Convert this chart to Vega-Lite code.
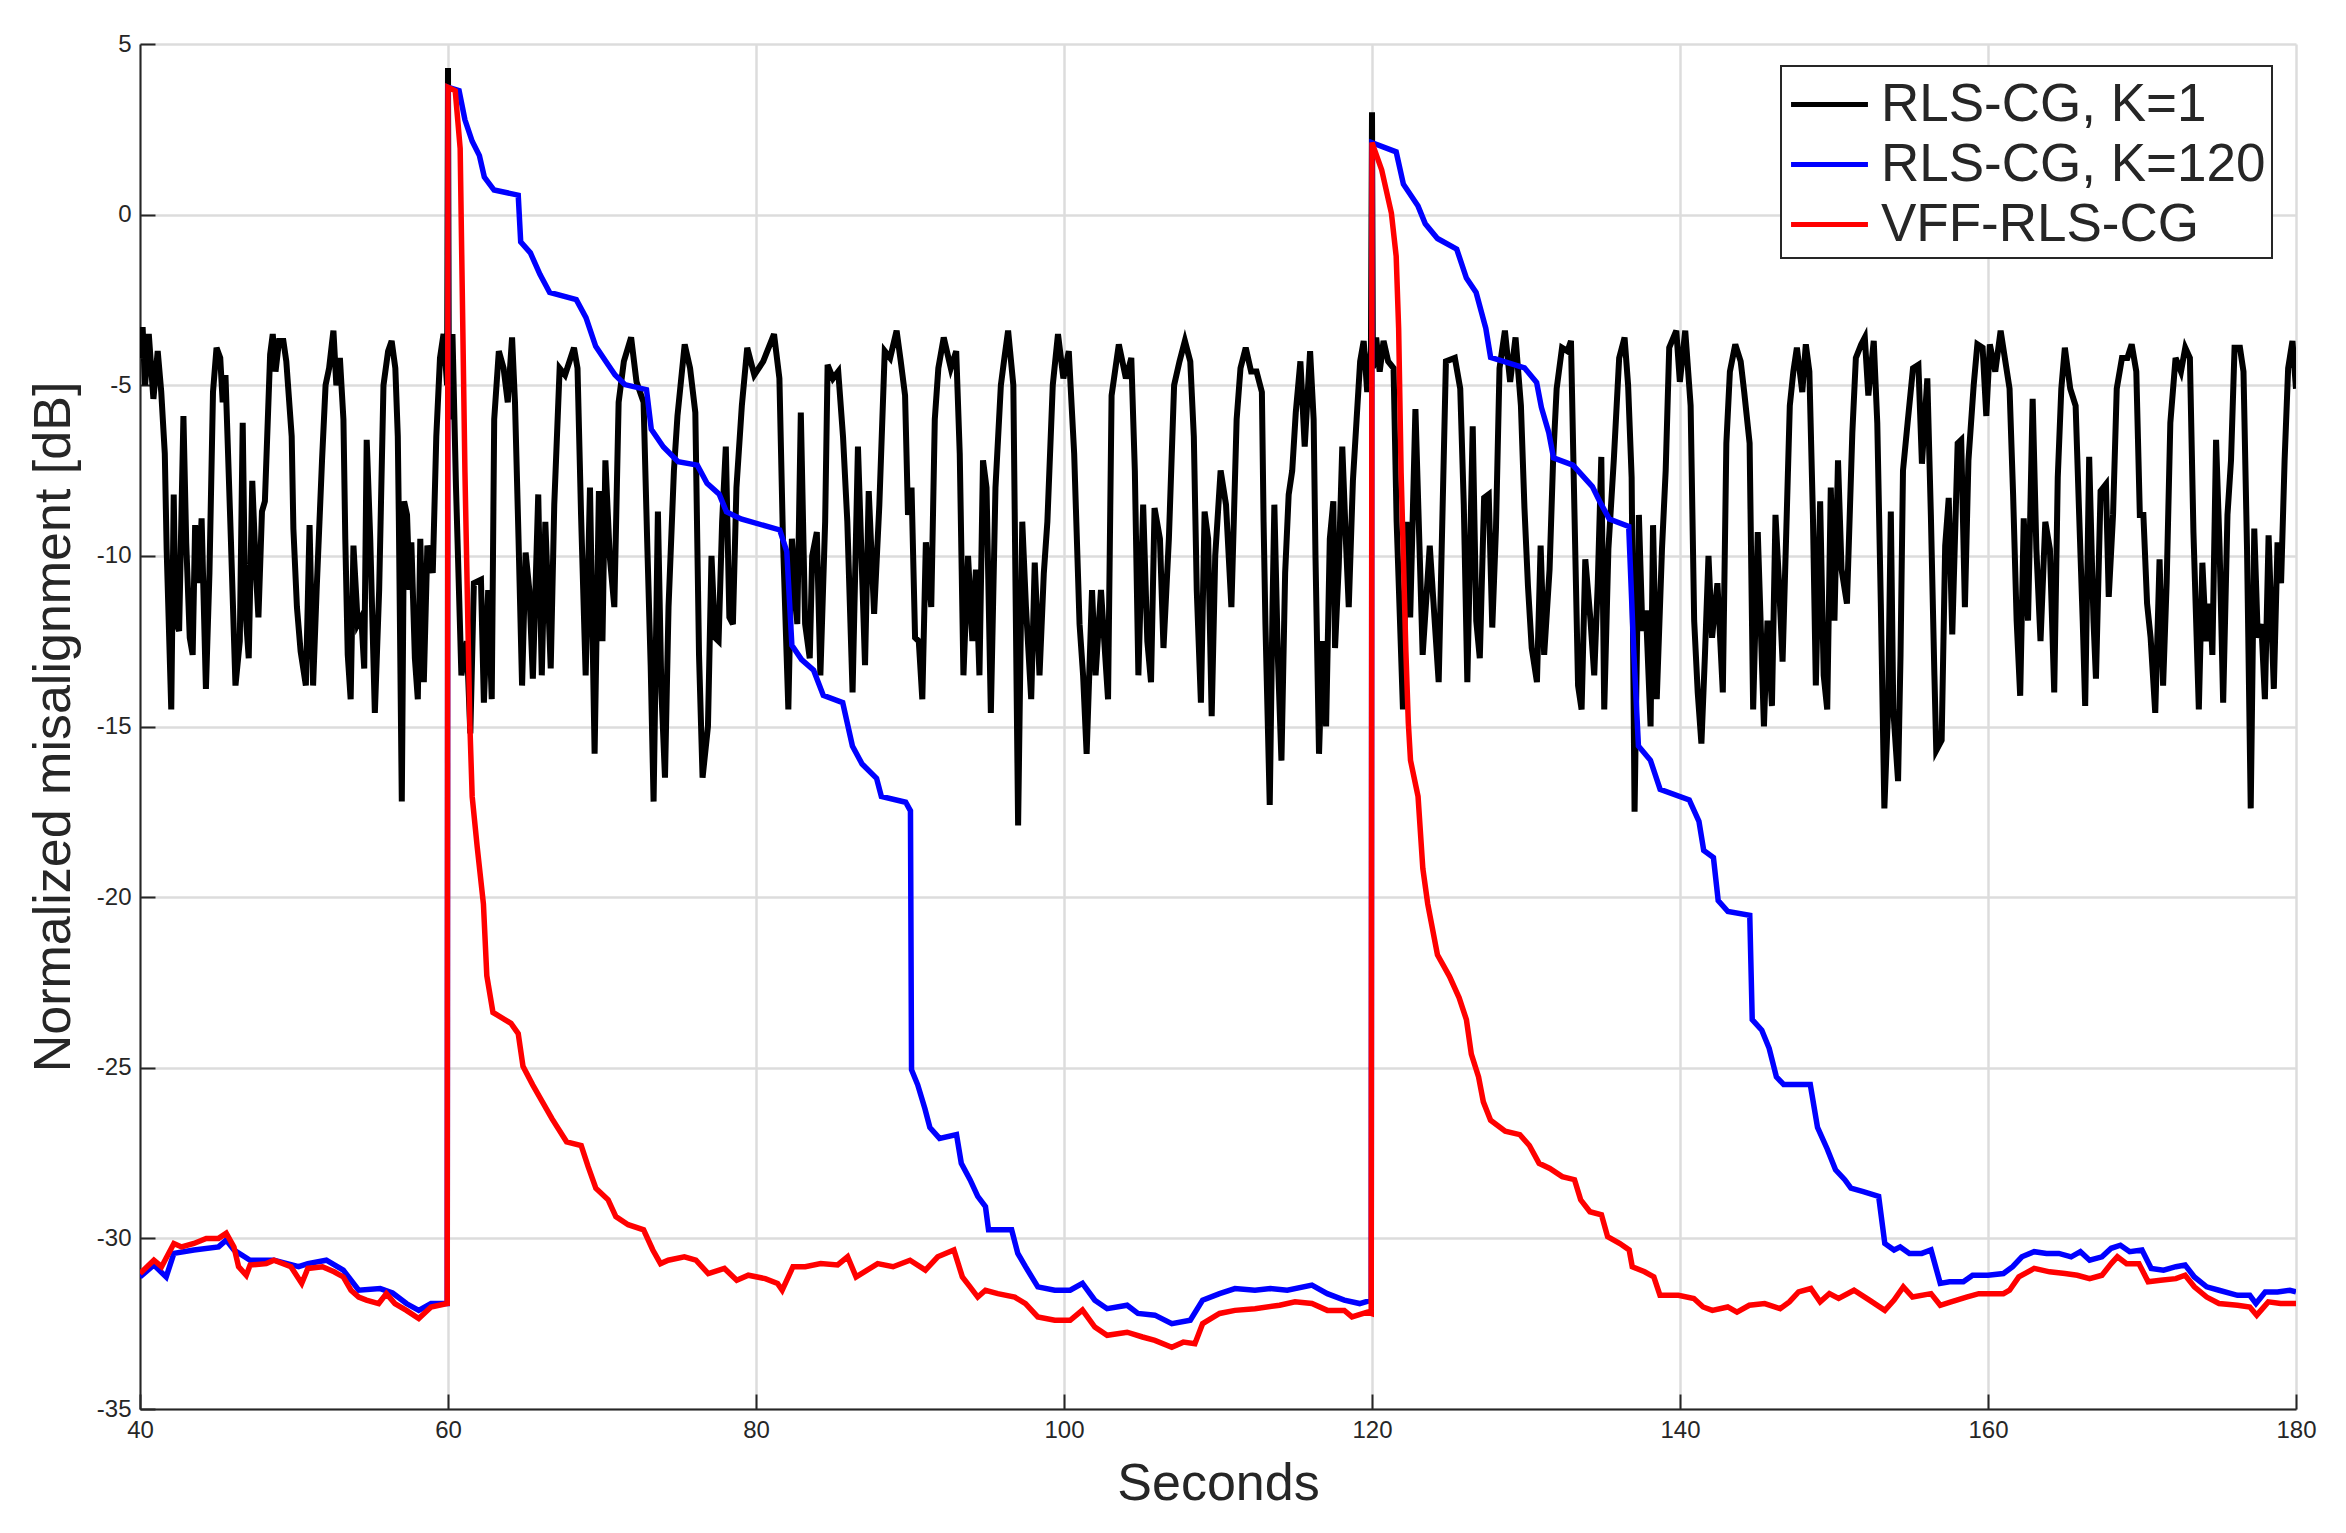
{
  "$schema": "https://vega.github.io/schema/vega-lite/v6.json",
  "autosize": {"type": "none"},
  "padding": {"left": 140, "top": 44, "right": 50, "bottom": 124},
  "width": 2156,
  "height": 1365,
  "background": "white",
  "config": {
    "font": "Liberation Sans",
    "view": {"stroke": null},
    "axis": {
      "domainColor": "#262626",
      "domainWidth": 2,
      "tickColor": "#262626",
      "tickWidth": 2,
      "tickSize": -15,
      "labelFont": "Liberation Sans",
      "labelFontSize": 24,
      "labelColor": "#262626",
      "labelFlush": false,
      "labelOverlap": false,
      "titleFont": "Liberation Sans",
      "titleFontSize": 52,
      "titleFontWeight": "normal",
      "titleColor": "#262626",
      "gridColor": "#dcdcdc",
      "gridWidth": 2.5,
      "gridOpacity": 1
    },
    "legend": {
      "orient": "none",
      "legendX": 1641,
      "legendY": 22,
      "labelFont": "Liberation Sans",
      "labelFontSize": 53,
      "labelColor": "#262626",
      "labelLimit": 0,
      "labelOffset": 19,
      "symbolType": "M-1.3,0H1.3",
      "symbolSize": 3500,
      "symbolOffset": 10,
      "symbolStrokeWidth": 5,
      "rowPadding": 0,
      "padding": 6,
      "strokeColor": "#262626",
      "strokeWidth": 2,
      "fillColor": "white"
    }
  },
  "datasets": {
    "k1": [
      {"t":40.0,"v":-4.2},{"t":40.17,"v":-3.3},{"t":40.33,"v":-5.0},{"t":40.57,"v":-3.5},{"t":40.87,"v":-5.4},{"t":41.15,"v":-4.0},{"t":41.38,"v":-5.2},{"t":41.61,"v":-7.0},{"t":41.73,"v":-9.8},{"t":42.03,"v":-14.5},
      {"t":42.19,"v":-8.2},{"t":42.31,"v":-11.9},{"t":42.54,"v":-12.2},{"t":42.82,"v":-5.9},{"t":43.0,"v":-9.6},{"t":43.23,"v":-12.4},{"t":43.42,"v":-12.9},{"t":43.58,"v":-9.1},{"t":43.81,"v":-10.8},{"t":44.0,"v":-8.9},
      {"t":44.28,"v":-13.9},{"t":44.51,"v":-10.5},{"t":44.74,"v":-5.2},{"t":44.97,"v":-3.9},{"t":45.21,"v":-4.2},{"t":45.37,"v":-5.5},{"t":45.55,"v":-4.7},{"t":45.9,"v":-9.5},{"t":46.2,"v":-13.8},{"t":46.48,"v":-12.5},
      {"t":46.67,"v":-6.1},{"t":46.83,"v":-11.5},{"t":47.06,"v":-13.0},{"t":47.29,"v":-7.8},{"t":47.53,"v":-10.5},{"t":47.69,"v":-11.8},{"t":47.92,"v":-8.7},{"t":48.11,"v":-8.4},{"t":48.45,"v":-4.1},{"t":48.62,"v":-3.5},
      {"t":48.8,"v":-4.6},{"t":49.03,"v":-3.7},{"t":49.31,"v":-3.7},{"t":49.5,"v":-4.3},{"t":49.85,"v":-6.5},{"t":49.96,"v":-9.2},{"t":50.19,"v":-11.5},{"t":50.43,"v":-12.8},{"t":50.77,"v":-13.8},{"t":51.01,"v":-9.1},
      {"t":51.24,"v":-13.8},{"t":51.47,"v":-11.0},{"t":51.82,"v":-7.2},{"t":52.05,"v":-5.0},{"t":52.28,"v":-4.5},{"t":52.56,"v":-3.4},{"t":52.75,"v":-5.0},{"t":52.98,"v":-4.2},{"t":53.21,"v":-6.0},{"t":53.33,"v":-9.5},
      {"t":53.49,"v":-12.9},{"t":53.68,"v":-14.2},{"t":53.86,"v":-9.7},{"t":54.14,"v":-12.0},{"t":54.37,"v":-11.8},{"t":54.56,"v":-13.3},{"t":54.72,"v":-6.6},{"t":54.95,"v":-9.5},{"t":55.25,"v":-14.6},{"t":55.53,"v":-11.0},
      {"t":55.81,"v":-5.0},{"t":56.11,"v":-4.0},{"t":56.34,"v":-3.7},{"t":56.58,"v":-4.5},{"t":56.74,"v":-6.5},{"t":56.81,"v":-9.0},{"t":57.0,"v":-17.2},{"t":57.15,"v":-8.4},{"t":57.34,"v":-8.8},{"t":57.5,"v":-11.0},
      {"t":57.62,"v":-9.6},{"t":57.85,"v":-13.0},{"t":58.04,"v":-14.2},{"t":58.2,"v":-9.5},{"t":58.43,"v":-13.7},{"t":58.66,"v":-9.7},{"t":59.01,"v":-10.5},{"t":59.24,"v":-6.5},{"t":59.48,"v":-4.2},{"t":59.71,"v":-3.5},
      {"t":59.94,"v":-5.0},{"t":60.0,"v":4.3},{"t":60.06,"v":-6.0},{"t":60.29,"v":-3.5},{"t":60.52,"v":-8.0},{"t":60.87,"v":-13.5},{"t":61.22,"v":-12.5},{"t":61.45,"v":-15.2},{"t":61.68,"v":-10.8},{"t":62.14,"v":-10.7},
      {"t":62.33,"v":-14.3},{"t":62.61,"v":-11.0},{"t":62.84,"v":-14.2},{"t":63.0,"v":-6.0},{"t":63.3,"v":-4.0},{"t":63.61,"v":-4.5},{"t":63.88,"v":-5.5},{"t":64.16,"v":-3.6},{"t":64.35,"v":-5.5},{"t":64.58,"v":-9.5},
      {"t":64.81,"v":-13.8},{"t":65.04,"v":-9.9},{"t":65.28,"v":-11.0},{"t":65.51,"v":-13.6},{"t":65.86,"v":-8.2},{"t":66.09,"v":-13.5},{"t":66.32,"v":-9.0},{"t":66.67,"v":-13.3},{"t":66.9,"v":-8.5},{"t":67.25,"v":-4.5},
      {"t":67.6,"v":-4.7},{"t":68.18,"v":-3.9},{"t":68.41,"v":-4.5},{"t":68.64,"v":-8.8},{"t":68.94,"v":-13.5},{"t":69.22,"v":-8.0},{"t":69.52,"v":-15.8},{"t":69.8,"v":-8.1},{"t":70.03,"v":-12.5},{"t":70.22,"v":-7.2},
      {"t":70.5,"v":-10.0},{"t":70.8,"v":-11.5},{"t":71.08,"v":-5.5},{"t":71.42,"v":-4.3},{"t":71.89,"v":-3.6},{"t":72.24,"v":-4.9},{"t":72.7,"v":-5.5},{"t":72.93,"v":-9.5},{"t":73.16,"v":-13.2},{"t":73.35,"v":-17.2},
      {"t":73.63,"v":-8.7},{"t":73.86,"v":-14.0},{"t":74.09,"v":-16.5},{"t":74.32,"v":-11.5},{"t":74.67,"v":-7.5},{"t":74.9,"v":-5.9},{"t":75.37,"v":-3.8},{"t":75.72,"v":-4.5},{"t":76.06,"v":-5.8},{"t":76.3,"v":-12.9},
      {"t":76.53,"v":-16.5},{"t":76.88,"v":-15.0},{"t":77.11,"v":-10.0},{"t":77.34,"v":-12.4},{"t":77.57,"v":-12.5},{"t":77.8,"v":-9.0},{"t":78.04,"v":-6.8},{"t":78.27,"v":-11.8},{"t":78.5,"v":-12.0},{"t":78.73,"v":-8.0},
      {"t":79.08,"v":-5.6},{"t":79.43,"v":-3.9},{"t":79.89,"v":-4.7},{"t":80.47,"v":-4.3},{"t":81.17,"v":-3.5},{"t":81.52,"v":-4.8},{"t":81.75,"v":-9.5},{"t":82.1,"v":-14.5},{"t":82.33,"v":-9.5},{"t":82.68,"v":-12.0},
      {"t":82.91,"v":-5.8},{"t":83.19,"v":-12.0},{"t":83.49,"v":-13.0},{"t":83.65,"v":-10.0},{"t":83.95,"v":-9.3},{"t":84.18,"v":-13.5},{"t":84.49,"v":-9.0},{"t":84.65,"v":-4.4},{"t":85.0,"v":-4.8},{"t":85.34,"v":-4.6},
      {"t":85.65,"v":-6.5},{"t":85.93,"v":-9.0},{"t":86.27,"v":-14.0},{"t":86.62,"v":-6.8},{"t":86.85,"v":-10.0},{"t":87.08,"v":-13.2},{"t":87.32,"v":-8.1},{"t":87.67,"v":-11.7},{"t":88.01,"v":-8.5},{"t":88.36,"v":-4.0},
      {"t":88.71,"v":-4.2},{"t":89.13,"v":-3.4},{"t":89.4,"v":-4.3},{"t":89.68,"v":-5.3},{"t":89.87,"v":-8.8},{"t":90.1,"v":-8.0},{"t":90.33,"v":-12.4},{"t":90.57,"v":-12.5},{"t":90.8,"v":-14.2},{"t":91.03,"v":-9.6},
      {"t":91.38,"v":-11.5},{"t":91.61,"v":-6.0},{"t":91.84,"v":-4.5},{"t":92.19,"v":-3.6},{"t":92.65,"v":-4.5},{"t":93.0,"v":-4.0},{"t":93.23,"v":-7.0},{"t":93.47,"v":-13.5},{"t":93.77,"v":-10.0},{"t":94.05,"v":-12.5},
      {"t":94.28,"v":-10.4},{"t":94.51,"v":-13.5},{"t":94.74,"v":-7.2},{"t":94.97,"v":-8.0},{"t":95.25,"v":-14.6},{"t":95.55,"v":-8.0},{"t":95.9,"v":-5.0},{"t":96.13,"v":-4.2},{"t":96.37,"v":-3.4},{"t":96.71,"v":-5.0},
      {"t":96.83,"v":-10.0},{"t":97.02,"v":-17.9},{"t":97.29,"v":-9.0},{"t":97.53,"v":-11.5},{"t":97.87,"v":-14.2},{"t":98.1,"v":-10.2},{"t":98.41,"v":-13.5},{"t":98.69,"v":-10.5},{"t":98.92,"v":-9.0},{"t":99.27,"v":-5.0},
      {"t":99.61,"v":-3.5},{"t":99.96,"v":-4.8},{"t":100.31,"v":-4.0},{"t":100.66,"v":-7.0},{"t":101.01,"v":-12.0},{"t":101.24,"v":-13.5},{"t":101.47,"v":-15.8},{"t":101.82,"v":-11.0},{"t":102.05,"v":-13.5},{"t":102.4,"v":-11.0},
      {"t":102.86,"v":-14.2},{"t":103.09,"v":-5.3},{"t":103.56,"v":-3.8},{"t":104.02,"v":-4.8},{"t":104.37,"v":-4.2},{"t":104.6,"v":-7.5},{"t":104.83,"v":-13.5},{"t":105.14,"v":-8.5},{"t":105.41,"v":-12.5},{"t":105.65,"v":-13.7},
      {"t":105.88,"v":-8.6},{"t":106.23,"v":-9.5},{"t":106.46,"v":-12.7},{"t":106.81,"v":-9.5},{"t":107.15,"v":-5.0},{"t":107.5,"v":-4.3},{"t":107.85,"v":-3.7},{"t":108.2,"v":-4.3},{"t":108.43,"v":-6.5},{"t":108.62,"v":-11.0},
      {"t":108.89,"v":-14.3},{"t":109.13,"v":-8.7},{"t":109.36,"v":-9.5},{"t":109.59,"v":-14.7},{"t":109.82,"v":-10.0},{"t":110.17,"v":-7.5},{"t":110.52,"v":-8.5},{"t":110.87,"v":-11.5},{"t":111.21,"v":-6.0},{"t":111.46,"v":-4.5},
      {"t":111.8,"v":-3.9},{"t":112.15,"v":-4.6},{"t":112.5,"v":-4.6},{"t":112.85,"v":-5.2},{"t":112.96,"v":-9.0},{"t":113.08,"v":-12.0},{"t":113.36,"v":-17.3},{"t":113.54,"v":-11.5},{"t":113.66,"v":-8.5},{"t":113.89,"v":-13.0},
      {"t":114.12,"v":-16.0},{"t":114.36,"v":-10.5},{"t":114.59,"v":-8.2},{"t":114.82,"v":-7.5},{"t":115.05,"v":-5.8},{"t":115.35,"v":-4.3},{"t":115.63,"v":-6.8},{"t":115.98,"v":-4.0},{"t":116.21,"v":-6.0},{"t":116.33,"v":-10.0},
      {"t":116.56,"v":-15.8},{"t":116.79,"v":-12.5},{"t":117.02,"v":-15.0},{"t":117.26,"v":-9.5},{"t":117.49,"v":-8.4},{"t":117.6,"v":-12.7},{"t":117.84,"v":-10.3},{"t":118.07,"v":-6.8},{"t":118.3,"v":-9.5},{"t":118.49,"v":-11.5},
      {"t":118.76,"v":-7.8},{"t":119.0,"v":-6.0},{"t":119.23,"v":-4.3},{"t":119.46,"v":-3.7},{"t":119.69,"v":-5.2},{"t":119.93,"v":-4.0},{"t":120.0,"v":3.0},{"t":120.06,"v":-4.5},{"t":120.27,"v":-3.6},{"t":120.5,"v":-4.6},
      {"t":120.75,"v":-3.7},{"t":121.05,"v":-4.3},{"t":121.4,"v":-4.5},{"t":121.6,"v":-9.0},{"t":122.01,"v":-14.5},{"t":122.24,"v":-9.0},{"t":122.48,"v":-11.8},{"t":122.82,"v":-5.7},{"t":123.29,"v":-12.9},{"t":123.75,"v":-9.7},
      {"t":124.33,"v":-13.7},{"t":124.8,"v":-4.3},{"t":125.38,"v":-4.2},{"t":125.73,"v":-5.1},{"t":125.96,"v":-8.5},{"t":126.19,"v":-13.7},{"t":126.54,"v":-6.2},{"t":126.77,"v":-11.9},{"t":127.0,"v":-13.0},{"t":127.28,"v":-8.3},
      {"t":127.58,"v":-8.2},{"t":127.81,"v":-12.1},{"t":128.05,"v":-9.2},{"t":128.28,"v":-4.5},{"t":128.63,"v":-3.4},{"t":128.97,"v":-4.9},{"t":129.32,"v":-3.6},{"t":129.67,"v":-5.6},{"t":129.9,"v":-8.6},{"t":130.13,"v":-10.9},
      {"t":130.37,"v":-12.7},{"t":130.71,"v":-13.7},{"t":130.95,"v":-9.7},{"t":131.18,"v":-12.9},{"t":131.53,"v":-10.4},{"t":131.76,"v":-7.2},{"t":131.99,"v":-5.1},{"t":132.34,"v":-3.9},{"t":132.69,"v":-4.0},{"t":132.92,"v":-3.7},
      {"t":133.15,"v":-8.8},{"t":133.38,"v":-13.8},{"t":133.61,"v":-14.5},{"t":133.85,"v":-10.1},{"t":134.19,"v":-11.9},{"t":134.43,"v":-13.5},{"t":134.66,"v":-10.8},{"t":134.89,"v":-7.1},{"t":135.08,"v":-14.5},{"t":135.35,"v":-9.8},
      {"t":135.7,"v":-7.2},{"t":136.05,"v":-4.2},{"t":136.4,"v":-3.6},{"t":136.63,"v":-5.0},{"t":136.86,"v":-7.7},{"t":137.05,"v":-17.5},{"t":137.33,"v":-8.8},{"t":137.56,"v":-12.2},{"t":137.79,"v":-11.6},{"t":138.09,"v":-15.0},
      {"t":138.25,"v":-9.1},{"t":138.49,"v":-14.2},{"t":138.83,"v":-9.8},{"t":139.07,"v":-7.5},{"t":139.3,"v":-3.9},{"t":139.76,"v":-3.4},{"t":139.99,"v":-4.9},{"t":140.34,"v":-3.4},{"t":140.69,"v":-5.6},{"t":140.92,"v":-11.9},
      {"t":141.15,"v":-14.0},{"t":141.39,"v":-15.5},{"t":141.62,"v":-12.9},{"t":141.85,"v":-10.0},{"t":142.08,"v":-12.4},{"t":142.43,"v":-10.8},{"t":142.78,"v":-14.0},{"t":143.01,"v":-6.7},{"t":143.24,"v":-4.6},{"t":143.59,"v":-3.8},
      {"t":143.94,"v":-4.3},{"t":144.17,"v":-5.2},{"t":144.52,"v":-6.7},{"t":144.75,"v":-14.5},{"t":145.05,"v":-9.3},{"t":145.45,"v":-15.0},{"t":145.68,"v":-11.9},{"t":145.97,"v":-14.4},{"t":146.2,"v":-8.8},{"t":146.43,"v":-10.8},
      {"t":146.66,"v":-13.1},{"t":146.9,"v":-9.3},{"t":147.13,"v":-5.6},{"t":147.36,"v":-4.6},{"t":147.59,"v":-3.9},{"t":147.94,"v":-5.2},{"t":148.17,"v":-3.8},{"t":148.4,"v":-4.6},{"t":148.63,"v":-8.8},{"t":148.82,"v":-13.8},
      {"t":149.1,"v":-8.4},{"t":149.33,"v":-13.5},{"t":149.56,"v":-14.5},{"t":149.79,"v":-8.0},{"t":150.03,"v":-11.9},{"t":150.26,"v":-7.2},{"t":150.49,"v":-10.4},{"t":150.84,"v":-11.4},{"t":151.19,"v":-6.4},{"t":151.42,"v":-4.2},
      {"t":151.77,"v":-3.8},{"t":152.0,"v":-3.6},{"t":152.23,"v":-5.3},{"t":152.58,"v":-3.7},{"t":152.81,"v":-6.1},{"t":153.04,"v":-11.4},{"t":153.27,"v":-17.4},{"t":153.51,"v":-14.5},{"t":153.69,"v":-8.7},{"t":153.85,"v":-14.5},
      {"t":154.16,"v":-16.6},{"t":154.32,"v":-12.9},{"t":154.48,"v":-7.5},{"t":154.78,"v":-6.1},{"t":155.13,"v":-4.5},{"t":155.48,"v":-4.4},{"t":155.71,"v":-7.3},{"t":156.06,"v":-4.8},{"t":156.29,"v":-8.8},{"t":156.52,"v":-13.5},
      {"t":156.64,"v":-15.7},{"t":156.99,"v":-15.4},{"t":157.22,"v":-9.7},{"t":157.45,"v":-8.3},{"t":157.68,"v":-12.3},{"t":158.03,"v":-6.7},{"t":158.26,"v":-6.6},{"t":158.5,"v":-11.5},{"t":158.73,"v":-7.2},{"t":159.07,"v":-5.0},
      {"t":159.31,"v":-3.8},{"t":159.65,"v":-3.9},{"t":159.89,"v":-5.9},{"t":160.12,"v":-3.8},{"t":160.47,"v":-4.6},{"t":160.82,"v":-3.4},{"t":161.16,"v":-4.4},{"t":161.4,"v":-5.1},{"t":161.63,"v":-8.2},{"t":161.86,"v":-11.9},
      {"t":162.09,"v":-14.1},{"t":162.32,"v":-8.9},{"t":162.6,"v":-11.9},{"t":162.9,"v":-5.4},{"t":163.14,"v":-9.8},{"t":163.41,"v":-12.5},{"t":163.72,"v":-9.0},{"t":164.02,"v":-9.8},{"t":164.3,"v":-14.0},{"t":164.53,"v":-7.7},
      {"t":164.76,"v":-5.1},{"t":164.99,"v":-3.9},{"t":165.34,"v":-5.1},{"t":165.69,"v":-5.6},{"t":165.92,"v":-8.8},{"t":166.15,"v":-11.9},{"t":166.31,"v":-14.4},{"t":166.57,"v":-7.1},{"t":166.85,"v":-11.9},{"t":167.01,"v":-13.6},
      {"t":167.31,"v":-8.1},{"t":167.66,"v":-7.9},{"t":167.84,"v":-11.2},{"t":168.12,"v":-8.8},{"t":168.36,"v":-5.1},{"t":168.7,"v":-4.2},{"t":169.05,"v":-4.2},{"t":169.33,"v":-3.8},{"t":169.63,"v":-4.6},{"t":169.86,"v":-8.8},
      {"t":170.09,"v":-8.8},{"t":170.33,"v":-11.4},{"t":170.56,"v":-12.4},{"t":170.86,"v":-14.6},{"t":171.14,"v":-10.1},{"t":171.37,"v":-13.8},{"t":171.6,"v":-10.8},{"t":171.84,"v":-6.1},{"t":172.18,"v":-4.2},{"t":172.53,"v":-4.6},
      {"t":172.81,"v":-3.9},{"t":173.11,"v":-4.2},{"t":173.34,"v":-9.3},{"t":173.69,"v":-14.5},{"t":173.92,"v":-10.2},{"t":174.16,"v":-12.5},{"t":174.43,"v":-11.4},{"t":174.57,"v":-12.9},{"t":174.81,"v":-6.6},{"t":175.04,"v":-9.8},
      {"t":175.27,"v":-14.3},{"t":175.55,"v":-8.8},{"t":175.78,"v":-7.2},{"t":176.01,"v":-3.9},{"t":176.36,"v":-3.9},{"t":176.59,"v":-4.6},{"t":176.82,"v":-9.8},{"t":177.06,"v":-17.4},{"t":177.29,"v":-9.2},{"t":177.52,"v":-12.4},
      {"t":177.75,"v":-12.0},{"t":177.98,"v":-14.2},{"t":178.22,"v":-9.4},{"t":178.56,"v":-13.9},{"t":178.8,"v":-9.6},{"t":179.03,"v":-10.8},{"t":179.26,"v":-7.2},{"t":179.49,"v":-4.5},{"t":179.77,"v":-3.7},{"t":180.0,"v":-5.1}
    ],
    "k120": [
      {"t":40.0,"v":-31.13},{"t":40.9,"v":-30.78},{"t":41.7,"v":-31.13},{"t":42.2,"v":-30.44},{"t":43.5,"v":-30.34},{"t":45.1,"v":-30.25},{"t":45.6,"v":-30.05},{"t":46.1,"v":-30.34},{"t":47.15,"v":-30.64},{"t":48.7,"v":-30.64},
      {"t":50.3,"v":-30.83},{"t":50.9,"v":-30.74},{"t":52.1,"v":-30.64},{"t":53.2,"v":-30.93},{"t":54.2,"v":-31.52},{"t":55.6,"v":-31.47},{"t":56.4,"v":-31.6},{"t":57.3,"v":-31.91},{"t":58.1,"v":-32.11},{"t":58.9,"v":-31.91},
      {"t":59.95,"v":-31.91},{"t":60.0,"v":3.73},{"t":60.72,"v":3.63},{"t":61.1,"v":2.78},{"t":61.57,"v":2.15},{"t":62.04,"v":1.73},{"t":62.36,"v":1.1},{"t":62.99,"v":0.72},{"t":64.56,"v":0.57},{"t":64.72,"v":-0.8},
      {"t":65.35,"v":-1.12},{"t":65.97,"v":-1.75},{"t":66.6,"v":-2.28},{"t":68.33,"v":-2.49},{"t":68.96,"v":-3.02},{"t":69.59,"v":-3.86},{"t":70.22,"v":-4.28},{"t":70.85,"v":-4.7},{"t":71.48,"v":-4.98},{"t":72.89,"v":-5.13},
      {"t":73.2,"v":-6.29},{"t":73.99,"v":-6.81},{"t":74.94,"v":-7.24},{"t":76.19,"v":-7.34},{"t":76.82,"v":-7.87},{"t":77.61,"v":-8.19},{"t":78.08,"v":-8.71},{"t":79.03,"v":-8.92},{"t":81.54,"v":-9.24},{"t":82.0,"v":-9.87},
      {"t":82.33,"v":-12.62},{"t":82.96,"v":-13.04},{"t":83.74,"v":-13.35},{"t":84.37,"v":-14.09},{"t":85.63,"v":-14.3},{"t":86.26,"v":-15.57},{"t":86.89,"v":-16.1},{"t":87.83,"v":-16.52},{"t":88.14,"v":-17.05},{"t":89.72,"v":-17.22},
      {"t":90.03,"v":-17.47},{"t":90.1,"v":-25.06},{"t":90.5,"v":-25.5},{"t":90.97,"v":-26.2},{"t":91.29,"v":-26.75},{"t":91.92,"v":-27.07},{"t":93.02,"v":-26.96},{"t":93.33,"v":-27.8},{"t":93.9,"v":-28.28},{"t":94.4,"v":-28.77},
      {"t":94.9,"v":-29.07},{"t":95.1,"v":-29.75},{"t":96.6,"v":-29.75},{"t":97.0,"v":-30.44},{"t":97.5,"v":-30.83},{"t":98.3,"v":-31.42},{"t":99.4,"v":-31.52},{"t":100.4,"v":-31.52},{"t":101.2,"v":-31.32},{"t":102.0,"v":-31.81},
      {"t":102.8,"v":-32.06},{"t":104.1,"v":-31.96},{"t":104.8,"v":-32.2},{"t":105.9,"v":-32.25},{"t":107.0,"v":-32.5},{"t":108.2,"v":-32.4},{"t":109.0,"v":-31.81},{"t":110.1,"v":-31.62},{"t":111.1,"v":-31.47},{"t":112.4,"v":-31.52},
      {"t":113.4,"v":-31.47},{"t":114.5,"v":-31.52},{"t":116.1,"v":-31.37},{"t":117.1,"v":-31.62},{"t":118.2,"v":-31.81},{"t":119.2,"v":-31.91},{"t":119.95,"v":-31.81},{"t":120.0,"v":2.11},{"t":121.57,"v":1.84},{"t":122.04,"v":0.89},
      {"t":122.99,"v":0.25},{"t":123.46,"v":-0.27},{"t":124.25,"v":-0.7},{"t":125.5,"v":-1.01},{"t":126.13,"v":-1.86},{"t":126.76,"v":-2.28},{"t":127.39,"v":-3.33},{"t":127.7,"v":-4.18},{"t":129.9,"v":-4.49},{"t":130.69,"v":-4.92},
      {"t":131.0,"v":-5.65},{"t":131.48,"v":-6.39},{"t":131.79,"v":-7.13},{"t":133.05,"v":-7.34},{"t":134.31,"v":-7.97},{"t":134.78,"v":-8.4},{"t":135.41,"v":-8.92},{"t":136.67,"v":-9.14},{"t":136.98,"v":-12.62},{"t":137.3,"v":-15.57},
      {"t":138.08,"v":-15.99},{"t":138.71,"v":-16.84},{"t":140.6,"v":-17.15},{"t":141.23,"v":-17.78},{"t":141.54,"v":-18.63},{"t":142.17,"v":-18.84},{"t":142.48,"v":-20.1},{"t":143.11,"v":-20.42},{"t":144.53,"v":-20.53},{"t":144.69,"v":-23.59},
      {"t":145.31,"v":-23.9},{"t":145.79,"v":-24.43},{"t":146.26,"v":-25.27},{"t":146.73,"v":-25.49},{"t":148.46,"v":-25.49},{"t":148.93,"v":-26.75},{"t":149.56,"v":-27.38},{"t":150.1,"v":-27.99},{"t":150.7,"v":-28.28},{"t":151.1,"v":-28.53},
      {"t":151.9,"v":-28.63},{"t":152.9,"v":-28.77},{"t":153.3,"v":-30.15},{"t":153.9,"v":-30.34},{"t":154.3,"v":-30.25},{"t":154.9,"v":-30.44},{"t":155.7,"v":-30.44},{"t":156.3,"v":-30.34},{"t":156.9,"v":-31.32},{"t":157.5,"v":-31.27},
      {"t":158.4,"v":-31.27},{"t":159.0,"v":-31.08},{"t":160.0,"v":-31.08},{"t":161.0,"v":-31.03},{"t":161.6,"v":-30.83},{"t":162.2,"v":-30.54},{"t":163.0,"v":-30.39},{"t":163.8,"v":-30.44},{"t":164.6,"v":-30.44},{"t":165.4,"v":-30.54},
      {"t":166.0,"v":-30.39},{"t":166.6,"v":-30.64},{"t":167.4,"v":-30.54},{"t":168.0,"v":-30.29},{"t":168.6,"v":-30.2},{"t":169.2,"v":-30.39},{"t":170.0,"v":-30.34},{"t":170.6,"v":-30.88},{"t":171.4,"v":-30.93},{"t":172.2,"v":-30.83},
      {"t":172.8,"v":-30.78},{"t":173.4,"v":-31.13},{"t":174.2,"v":-31.42},{"t":175.0,"v":-31.52},{"t":176.2,"v":-31.67},{"t":177.0,"v":-31.67},{"t":177.4,"v":-31.91},{"t":178.0,"v":-31.57},{"t":178.8,"v":-31.57},{"t":179.6,"v":-31.52},
      {"t":180.0,"v":-31.57}
    ],
    "vff": [
      {"t":40.0,"v":-31.03},{"t":40.9,"v":-30.64},{"t":41.4,"v":-30.83},{"t":42.2,"v":-30.15},{"t":42.7,"v":-30.25},{"t":43.5,"v":-30.15},{"t":44.3,"v":-30.0},{"t":45.1,"v":-30.0},{"t":45.6,"v":-29.85},{"t":46.1,"v":-30.25},
      {"t":46.4,"v":-30.83},{"t":46.9,"v":-31.08},{"t":47.15,"v":-30.78},{"t":48.2,"v":-30.74},{"t":48.7,"v":-30.64},{"t":49.8,"v":-30.83},{"t":50.5,"v":-31.32},{"t":50.9,"v":-30.88},{"t":51.85,"v":-30.83},{"t":52.6,"v":-30.98},
      {"t":53.2,"v":-31.13},{"t":53.7,"v":-31.52},{"t":54.2,"v":-31.72},{"t":54.7,"v":-31.81},{"t":55.5,"v":-31.91},{"t":56.0,"v":-31.62},{"t":56.55,"v":-31.91},{"t":57.3,"v":-32.11},{"t":58.1,"v":-32.35},{"t":58.9,"v":-32.01},
      {"t":59.95,"v":-31.91},{"t":60.0,"v":3.73},{"t":60.47,"v":3.63},{"t":60.79,"v":1.94},{"t":61.1,"v":-7.55},{"t":61.42,"v":-14.94},{"t":61.57,"v":-17.05},{"t":61.89,"v":-18.5},{"t":62.3,"v":-20.2},{"t":62.52,"v":-22.3},
      {"t":62.92,"v":-23.38},{"t":64.09,"v":-23.7},{"t":64.56,"v":-24.0},{"t":64.87,"v":-24.96},{"t":65.5,"v":-25.5},{"t":66.13,"v":-26.0},{"t":66.76,"v":-26.5},{"t":67.7,"v":-27.17},{"t":68.65,"v":-27.28},{"t":69.1,"v":-27.9},
      {"t":69.6,"v":-28.53},{"t":70.4,"v":-28.87},{"t":70.9,"v":-29.36},{"t":71.7,"v":-29.6},{"t":72.7,"v":-29.75},{"t":73.3,"v":-30.34},{"t":73.8,"v":-30.74},{"t":74.3,"v":-30.64},{"t":75.35,"v":-30.54},{"t":76.1,"v":-30.64},
      {"t":76.9,"v":-31.03},{"t":77.95,"v":-30.88},{"t":78.75,"v":-31.23},{"t":79.5,"v":-31.08},{"t":80.6,"v":-31.18},{"t":81.4,"v":-31.32},{"t":81.7,"v":-31.52},{"t":82.4,"v":-30.83},{"t":83.2,"v":-30.83},{"t":84.2,"v":-30.74},
      {"t":85.3,"v":-30.78},{"t":85.95,"v":-30.54},{"t":86.5,"v":-31.13},{"t":87.9,"v":-30.74},{"t":88.9,"v":-30.83},{"t":90.0,"v":-30.64},{"t":91.0,"v":-30.93},{"t":91.8,"v":-30.54},{"t":92.85,"v":-30.34},{"t":93.4,"v":-31.13},
      {"t":93.9,"v":-31.42},{"t":94.4,"v":-31.72},{"t":94.9,"v":-31.52},{"t":95.7,"v":-31.62},{"t":96.8,"v":-31.72},{"t":97.5,"v":-31.91},{"t":98.3,"v":-32.3},{"t":99.4,"v":-32.4},{"t":100.4,"v":-32.4},{"t":101.2,"v":-32.1},
      {"t":102.0,"v":-32.6},{"t":102.8,"v":-32.84},{"t":104.1,"v":-32.75},{"t":105.1,"v":-32.89},{"t":105.9,"v":-32.99},{"t":107.0,"v":-33.19},{"t":107.75,"v":-33.04},{"t":108.5,"v":-33.09},{"t":109.0,"v":-32.5},{"t":110.1,"v":-32.2},
      {"t":111.1,"v":-32.11},{"t":112.4,"v":-32.06},{"t":114.0,"v":-31.96},{"t":115.0,"v":-31.86},{"t":116.1,"v":-31.91},{"t":117.1,"v":-32.11},{"t":118.2,"v":-32.11},{"t":118.7,"v":-32.3},{"t":119.7,"v":-32.16},{"t":119.95,"v":-32.2},
      {"t":120.0,"v":2.11},{"t":120.63,"v":1.31},{"t":121.26,"v":0.04},{"t":121.57,"v":-1.22},{"t":121.73,"v":-3.33},{"t":121.89,"v":-7.55},{"t":122.2,"v":-12.8},{"t":122.36,"v":-14.9},{"t":122.5,"v":-15.99},{"t":122.99,"v":-17.05},
      {"t":123.3,"v":-19.16},{"t":123.62,"v":-20.2},{"t":124.25,"v":-21.69},{"t":125.03,"v":-22.32},{"t":125.66,"v":-22.95},{"t":126.13,"v":-23.59},{"t":126.45,"v":-24.6},{"t":126.92,"v":-25.27},{"t":127.23,"v":-26.0},{"t":127.7,"v":-26.54},
      {"t":128.65,"v":-26.86},{"t":129.6,"v":-26.96},{"t":130.22,"v":-27.28},{"t":130.85,"v":-27.8},{"t":131.55,"v":-27.95},{"t":132.35,"v":-28.19},{"t":133.15,"v":-28.28},{"t":133.55,"v":-28.87},{"t":134.15,"v":-29.22},{"t":134.9,"v":-29.31},
      {"t":135.3,"v":-29.95},{"t":136.1,"v":-30.15},{"t":136.7,"v":-30.34},{"t":136.9,"v":-30.83},{"t":137.7,"v":-30.98},{"t":138.3,"v":-31.13},{"t":138.7,"v":-31.67},{"t":139.9,"v":-31.67},{"t":140.9,"v":-31.76},{"t":141.5,"v":-32.01},
      {"t":142.1,"v":-32.11},{"t":143.1,"v":-32.01},{"t":143.7,"v":-32.16},{"t":144.5,"v":-31.96},{"t":145.5,"v":-31.91},{"t":146.5,"v":-32.06},{"t":147.1,"v":-31.86},{"t":147.7,"v":-31.57},{"t":148.5,"v":-31.47},{"t":149.1,"v":-31.86},
      {"t":149.7,"v":-31.62},{"t":150.3,"v":-31.76},{"t":151.3,"v":-31.52},{"t":152.3,"v":-31.81},{"t":153.3,"v":-32.11},{"t":153.9,"v":-31.81},{"t":154.5,"v":-31.42},{"t":155.1,"v":-31.72},{"t":156.3,"v":-31.62},{"t":156.9,"v":-31.96},
      {"t":157.6,"v":-31.86},{"t":158.6,"v":-31.72},{"t":159.4,"v":-31.62},{"t":161.0,"v":-31.62},{"t":161.4,"v":-31.52},{"t":162.0,"v":-31.13},{"t":163.0,"v":-30.88},{"t":164.0,"v":-30.98},{"t":165.0,"v":-31.03},{"t":165.8,"v":-31.08},
      {"t":166.6,"v":-31.18},{"t":167.4,"v":-31.08},{"t":168.0,"v":-30.74},{"t":168.4,"v":-30.54},{"t":169.0,"v":-30.74},{"t":169.8,"v":-30.74},{"t":170.4,"v":-31.27},{"t":171.2,"v":-31.23},{"t":172.2,"v":-31.18},{"t":172.8,"v":-31.08},
      {"t":173.4,"v":-31.42},{"t":174.2,"v":-31.72},{"t":175.0,"v":-31.91},{"t":176.2,"v":-31.96},{"t":177.0,"v":-32.01},{"t":177.45,"v":-32.25},{"t":178.2,"v":-31.86},{"t":179.0,"v":-31.91},{"t":180.0,"v":-31.91}
    ]
  },
  "encoding": {
    "x": {
      "field": "t",
      "type": "quantitative",
      "title": "Seconds",
      "scale": {"domain": [40, 180], "nice": false, "zero": false},
      "axis": {"values": [40, 60, 80, 100, 120, 140, 160, 180], "labelPadding": 24, "titlePadding": 16, "labelExpr": "'' + datum.value"}
    },
    "y": {
      "field": "v",
      "type": "quantitative",
      "title": "Normalized misalignment [dB]",
      "scale": {"domain": [-35, 5], "nice": false, "zero": false},
      "axis": {"values": [-35, -30, -25, -20, -15, -10, -5, 0, 5], "labelPadding": 24, "titlePadding": 16, "labelExpr": "'' + datum.value"}
    }
  },
  "layer": [
    {
      "data": {"name": "k1"},
      "mark": {"type": "line", "strokeWidth": 6, "clip": true},
      "encoding": {
        "color": {
          "datum": "RLS-CG, K=1",
          "type": "nominal",
          "scale": {
            "domain": ["RLS-CG, K=1", "RLS-CG, K=120", "VFF-RLS-CG"],
            "range": ["#000000", "#0000ff", "#ff0000"]
          },
          "legend": {"title": null}
        }
      }
    },
    {
      "data": {"name": "k120"},
      "mark": {"type": "line", "strokeWidth": 5.5, "clip": true},
      "encoding": {"color": {"datum": "RLS-CG, K=120", "type": "nominal"}}
    },
    {
      "data": {"name": "vff"},
      "mark": {"type": "line", "strokeWidth": 5.5, "clip": true},
      "encoding": {"color": {"datum": "VFF-RLS-CG", "type": "nominal"}}
    }
  ]
}
